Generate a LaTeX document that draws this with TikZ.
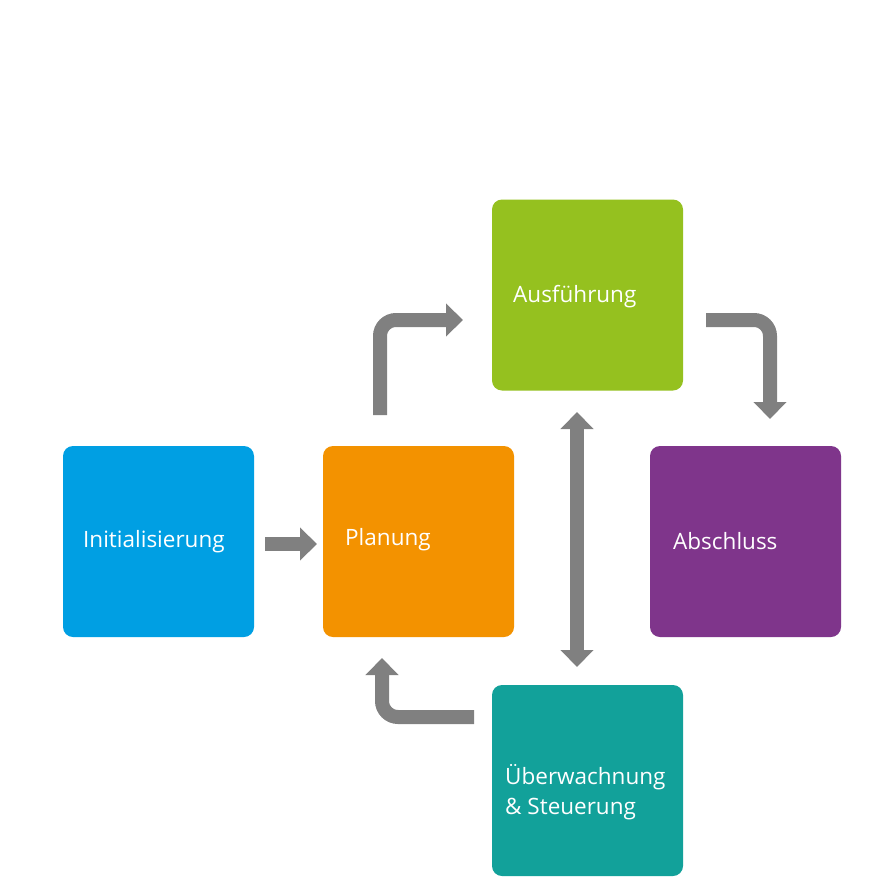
\documentclass[tikz,border=0pt]{standalone}
\usepackage{fontspec}
\setmainfont{Open Sans}
\usetikzlibrary{arrows.meta}
\definecolor{cblue}{RGB}{0,159,227}
\definecolor{corange}{RGB}{243,146,0}
\definecolor{cgreen}{RGB}{149,193,31}
\definecolor{cpurple}{RGB}{127,53,139}
\definecolor{cteal}{RGB}{18,161,154}
\definecolor{cgray}{RGB}{128,128,128}
\begin{document}
\begin{tikzpicture}[x=1pt,y=-1pt,
  box/.style={rectangle,rounded corners=10pt,minimum width=191pt,minimum height=191pt,inner sep=0pt,draw=none},
  lbl/.style={anchor=west,text=white,font=\fontsize{22.5}{30}\selectfont,align=left,inner sep=0pt},
  conn/.style={draw=cgray,line width=14pt,rounded corners=16pt,-{Triangle[width=32pt,length=17pt]}},
  dconn/.style={draw=cgray,line width=14pt,{Triangle[width=32pt,length=17pt]}-{Triangle[width=32pt,length=17pt]}}]
\useasboundingbox (0,0) rectangle (882,894);
\fill[white] (0,0) rectangle (882,894);
% boxes
\node[box,fill=cblue]   (init) at (158.5,541.5) {};
\node[box,fill=corange] (plan) at (418.5,541.5) {};
\node[box,fill=cgreen]  (ausf) at (587.5,295) {};
\node[box,fill=cpurple] (absc) at (745.5,541.5) {};
\node[box,fill=cteal]   (ueb)  at (587.5,780.5) {};
% labels
\node[lbl] (tinit) at (83,542) {Initialisierung};
\node[lbl] (tplan) at (345,540) {Planung};
\node[lbl] (tausf) at (513,297) {Ausführung};
\node[lbl] (tabsc) at (673,541) {Abschluss};
\node[lbl] (tueb)  at (505,792) {Überwachnung\\\& Steuerung};
% connector end points
\coordinate (a1s) at (380,415);
\coordinate (a1c) at (380,320);
\coordinate (a1e) at (463,320);
\coordinate (a2s) at (706,320);
\coordinate (a2c) at (770,320);
\coordinate (a2e) at (770,419);
\coordinate (a3s) at (474,717);
\coordinate (a3c) at (382,717);
\coordinate (a3e) at (382,658);
\coordinate (a4s) at (577,412);
\coordinate (a4e) at (577,667);
\coordinate (a5s) at (265,544);
\coordinate (a5e) at (317,544);
% connectors
\draw[conn] (a1s) -- (a1c) -- (a1e);
\draw[conn] (a2s) -- (a2c) -- (a2e);
\draw[conn] (a3s) -- (a3c) -- (a3e);
\draw[dconn] (a4s) -- (a4e);
\draw[conn] (a5s) -- (a5e);
\end{tikzpicture}
\end{document}
